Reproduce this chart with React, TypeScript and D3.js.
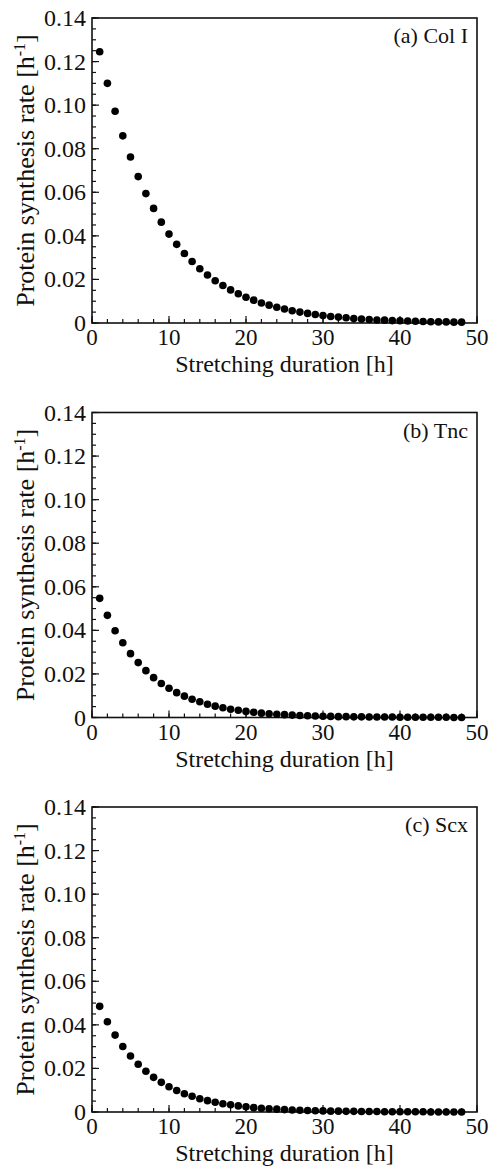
import React from "react";
import * as d3 from "d3";

// stretching duration (h)
const hours = d3.range(1, 49);

// protein synthesis rate [h^-1]
const colI = [
  0.1245, 0.110, 0.0972, 0.0859, 0.0762, 0.0672, 0.0594, 0.0526, 0.0463, 0.0408,
  0.0361, 0.0319, 0.0282, 0.0249, 0.0220, 0.0194, 0.0172, 0.0152, 0.0134, 0.0118,
  0.0105, 0.0092, 0.0082, 0.0072, 0.0064, 0.0056, 0.0050, 0.0044, 0.0039, 0.0034,
  0.0030, 0.0027, 0.0024, 0.0021, 0.0018, 0.0016, 0.0014, 0.0013, 0.0011, 0.0010,
  0.0009, 0.0008, 0.0007, 0.0006, 0.0005, 0.0005, 0.0004, 0.0004,
];
const tnc = [
  0.0547, 0.0469, 0.0398, 0.0343, 0.0293, 0.0252, 0.0215, 0.0183, 0.0156, 0.0134,
  0.0114, 0.0098, 0.0084, 0.0072, 0.0061, 0.0052, 0.0045, 0.0038, 0.0033, 0.0028,
  0.0024, 0.0020, 0.0017, 0.0015, 0.0013, 0.0011, 0.0009, 0.0008, 0.0007, 0.0006,
  0.0005, 0.0004, 0.0004, 0.0003, 0.0003, 0.0002, 0.0002, 0.0002, 0.0002, 0.0001,
  0.0001, 0.0001, 0.0001, 0.0001, 0.0001, 0.0001, 0.0, 0.0,
];
const scx = [
  0.0485, 0.0414, 0.0353, 0.0301, 0.0257, 0.0219, 0.0187, 0.0159, 0.0136, 0.0116,
  0.0099, 0.0084, 0.0072, 0.0061, 0.0052, 0.0045, 0.0038, 0.0033, 0.0028, 0.0024,
  0.0020, 0.0017, 0.0015, 0.0013, 0.0011, 0.0009, 0.0008, 0.0007, 0.0006, 0.0005,
  0.0004, 0.0004, 0.0003, 0.0003, 0.0002, 0.0002, 0.0002, 0.0001, 0.0001, 0.0001,
  0.0001, 0.0001, 0.0001, 0.0, 0.0, 0.0, 0.0, 0.0,
];

const panelLabels = ["(a) Col I", "(b) Tnc", "(c) Scx"];
const panelSeries = [colI, tnc, scx];

const yMajor = d3.range(0, 0.1401, 0.02);
const yMinor = d3.range(0, 0.1401, 0.005);
const xMajor = d3.range(0, 51, 10);
const xMinor = d3.range(0, 51, 2);

const W = 490;
const H = 1167;
const left = 92;
const right = 477;
const plotH = 305;
const tops = [18, 412.5, 807];
const ink = "#111";
const serif = { fontFamily: '"Liberation Serif", Tinos, "Times New Roman", "DejaVu Serif", serif' };

function Panel({ top, values, label }: { top: number; values: number[]; label: string }) {
  const x = d3.scaleLinear().domain([0, 50]).range([left, right]);
  const y = d3.scaleLinear().domain([0, 0.14]).range([top + plotH, top]);
  const bottom = top + plotH;
  const yFmt = (v: number) => (v === 0 ? "0" : d3.format(".2f")(v));

  return (
    <g style={serif}>
      {/* minor + major ticks, pointing inward */}
      {yMinor.map((v, i) => (
        <line key={"ym" + i} x1={left} x2={left + 4} y1={y(v)} y2={y(v)} stroke={ink} strokeWidth={1.2} />
      ))}
      {yMajor.map((v, i) => (
        <line key={"yM" + i} x1={left} x2={left + 7} y1={y(v)} y2={y(v)} stroke={ink} strokeWidth={1.2} />
      ))}
      {xMinor.map((v, i) => (
        <line key={"xm" + i} x1={x(v)} x2={x(v)} y1={bottom} y2={bottom - 4} stroke={ink} strokeWidth={1.2} />
      ))}
      {xMajor.map((v, i) => (
        <line key={"xM" + i} x1={x(v)} x2={x(v)} y1={bottom} y2={bottom - 7} stroke={ink} strokeWidth={1.2} />
      ))}
      <rect x={left} y={top} width={right - left} height={plotH} fill="none" stroke={ink} strokeWidth={1.6} />

      {values.map((v, i) => (
        <circle key={"p" + i} cx={x(hours[i])} cy={y(v)} r={3.8} fill="#000" />
      ))}

      {yMajor.map((v, i) => (
        <text key={"yl" + i} x={left - 6} y={y(v) + 8} textAnchor="end" fontSize={24} fill={ink} style={serif}>
          {yFmt(v)}
        </text>
      ))}
      {xMajor.map((v, i) => (
        <text key={"xl" + i} x={x(v)} y={bottom + 22} textAnchor="middle" fontSize={23} fill={ink} style={serif}>
          {v}
        </text>
      ))}
      <text x={(left + right) / 2} y={bottom + 49} textAnchor="middle" fontSize={24} fill={ink} style={serif}>
        Stretching duration [h]
      </text>
      <text
        transform={`translate(34,${top + plotH / 2}) rotate(-90)`}
        textAnchor="middle"
        fontSize={26}
        fill={ink}
        style={serif}
      >
        Protein synthesis rate [h
        <tspan fontSize={16} dy={-9}>-1</tspan>
        <tspan dy={9}>]</tspan>
      </text>
      <text x={right - 9} y={top + 25} textAnchor="end" fontSize={22} fill={ink} style={serif}>
        {label}
      </text>
    </g>
  );
}

export default function App() {
  return (
    <svg width={W} height={H} style={{ position: "absolute", left: 0, top: 0, background: "#fff" }}>
      {tops.map((t, i) => (
        <Panel key={i} top={t} values={panelSeries[i]} label={panelLabels[i]} />
      ))}
    </svg>
  );
}
